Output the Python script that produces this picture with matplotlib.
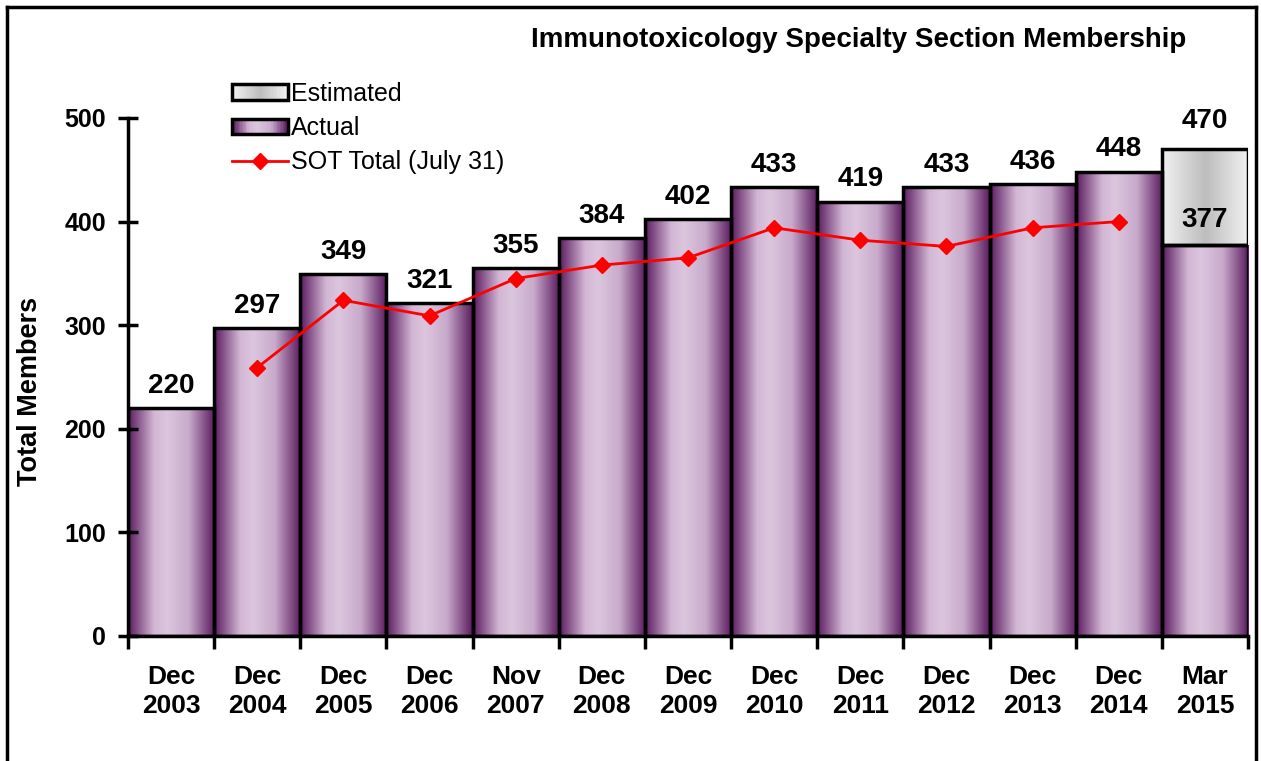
import numpy as np
import matplotlib
matplotlib.use("Agg")
import matplotlib.pyplot as plt
from matplotlib.colors import LinearSegmentedColormap
from matplotlib.patches import Patch, Rectangle
from matplotlib.lines import Line2D
from matplotlib.legend_handler import HandlerBase

plt.rcParams['font.family'] = ['Liberation Sans', 'DejaVu Sans']

# Data
categories = ['Dec\n2003', 'Dec\n2004', 'Dec\n2005', 'Dec\n2006', 'Nov\n2007',
              'Dec\n2008', 'Dec\n2009', 'Dec\n2010', 'Dec\n2011', 'Dec\n2012',
              'Dec\n2013', 'Dec\n2014', 'Mar\n2015']
actual = [220, 297, 349, 321, 355, 384, 402, 433, 419, 433, 436, 448, 377]
estimated_extra = [0, 0, 0, 0, 0, 0, 0, 0, 0, 0, 0, 0, 93]
sot_total = [np.nan, 259, 324, 309, 345, 358, 365, 394, 382, 376, 394, 400, np.nan]

# Gradients
purple = LinearSegmentedColormap.from_list(
    'purple', [(0, '#5a1a5e'), (0.3, '#d2b6d4'), (0.45, '#dcc6de'),
               (0.7, '#c8aacb'), (1, '#5a1a5e')])
grey = LinearSegmentedColormap.from_list(
    'grey', [(0, '#f2f2f2'), (0.5, '#bdbdbd'), (1, '#f2f2f2')])
grad = np.linspace(0, 1, 256).reshape(1, -1)


class GradHandler(HandlerBase):
    def __init__(self, cmap):
        super().__init__()
        self.cmap = cmap

    def create_artists(self, legend, orig_handle, xdescent, ydescent,
                       width, height, fontsize, trans):
        n = 40
        arts = []
        for i in range(n):
            arts.append(Rectangle((-xdescent + width * i / n, -ydescent),
                                  width / n + 0.3, height,
                                  facecolor=self.cmap(i / (n - 1)),
                                  edgecolor='none', transform=trans))
        arts.append(Rectangle((-xdescent, -ydescent), width, height,
                              fill=False, edgecolor='black', lw=2.5,
                              transform=trans))
        return arts


fig = plt.figure(figsize=(12.61, 7.61), dpi=100)
ax = fig.add_axes([0.1015, 0.1643, 0.8882, 0.6807])

x = np.arange(len(categories))
for xi, a, e in zip(x, actual, estimated_extra):
    ax.imshow(grad, cmap=purple, extent=[xi - 0.5, xi + 0.5, 0, a],
              aspect='auto', zorder=1)
    ax.bar(xi, a, width=1, fill=False, edgecolor='black', lw=2.5, zorder=2)
    if e > 0:
        ax.imshow(grad, cmap=grey, extent=[xi - 0.5, xi + 0.5, a, a + e],
                  aspect='auto', zorder=1)
        ax.bar(xi, e, bottom=a, width=1, fill=False, edgecolor='black',
               lw=2.5, zorder=2)
        ax.text(xi, a + e + 20, str(a + e), ha='center', va='baseline',
                fontsize=20, fontweight='bold')
        ax.text(xi, a + 18, str(a), ha='center', va='baseline',
                fontsize=20, fontweight='bold', zorder=3)
    else:
        ax.text(xi, a + 15, str(a), ha='center', va='baseline',
                fontsize=20, fontweight='bold')

ax.plot(x, sot_total, color='red', lw=2, marker='D', markersize=8, zorder=4)

ax.set_xlim(-0.5, len(categories) - 0.5)
ax.set_ylim(0, 500)
ax.set_yticks(np.arange(0, 501, 100))
ax.set_xticks(x)
ax.set_xticklabels(categories, fontsize=19, fontweight='bold', linespacing=1.28)
ax.set_xticks(np.arange(-0.5, len(categories), 1), minor=True)
ax.tick_params(axis='x', which='major', length=0, pad=21)
ax.tick_params(axis='x', which='minor', length=9, width=2.5, direction='out')
ax.tick_params(axis='y', direction='inout', length=14, width=2.5, pad=9,
               labelsize=18)
for lbl in ax.get_yticklabels():
    lbl.set_fontweight('bold')
for s in ['top', 'right']:
    ax.spines[s].set_visible(False)
for s in ['left', 'bottom']:
    ax.spines[s].set_linewidth(2.5)
ax.patch.set_alpha(0)

fig.text(0.681, 0.947, 'Immunotoxicology Specialty Section Membership',
         ha='center', va='center', fontsize=20, fontweight='bold')
fig.text(0.024, 0.485, 'Total Members', rotation=90, ha='center',
         va='center', fontsize=19.5, fontweight='bold')

h_est = Patch(label='Estimated')
h_act = Patch(label='Actual')
h_sot = Line2D([], [], color='red', lw=2, marker='D', markersize=8,
               label='SOT Total (July 31)')
fig.legend(handles=[h_est, h_act, h_sot],
           handler_map={h_est: GradHandler(grey), h_act: GradHandler(purple)},
           loc='upper left', bbox_to_anchor=(232 / 1261, 1 - 82 / 761),
           frameon=False, fontsize=18, borderpad=0, borderaxespad=0,
           handlelength=2.25, handleheight=0.6, handletextpad=0.1,
           labelspacing=0.41)

# Figure frame (pixel coordinates)
frame = [([7, 7], [7, 761]), ([7, 1256], [7, 7]), ([1256, 1256], [7, 761])]
for xs, ys in frame:
    fig.add_artist(Line2D([p / 1261 for p in xs], [1 - p / 761 for p in ys],
                          color='black', lw=2.5))

fig.savefig('out.png', dpi=100)
